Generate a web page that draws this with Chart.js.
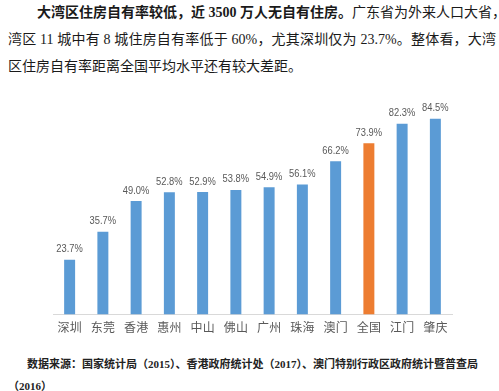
<!DOCTYPE html>
<html>
<head>
<meta charset="utf-8">
<script src="https://cdn.jsdelivr.net/npm/chart.js@4/dist/chart.umd.min.js"></script>
<style>
  html, body { margin: 0; padding: 0; background: #fff; }
  body { width: 499px; height: 391px; position: relative; overflow: hidden;
         font-family: "Liberation Serif", "Noto Sans CJK SC", serif; color: #1a1a1a; }
  .line { position: absolute; font-size: 14px; line-height: 20px; white-space: nowrap;
          text-align: justify; text-align-last: justify; }
  .src { position: absolute; font-size: 11px; line-height: 16px; white-space: nowrap; font-weight: bold; color: #222; }
  #wrap { position: absolute; left: 0; top: 95px; width: 499px; height: 246px; }
</style>
</head>
<body>
<div class="line" style="left:37px; top:3px; width:455px;"><b>大湾区住房自有率较低，近 3500 万人无自有住房。</b>广东省为外来人口大省，</div>
<div class="line" style="left:8px; top:30px; width:488px;">湾区 11 城中有 8 城住房自有率低于 60%，尤其深圳仅为 23.7%。整体看，大湾</div>
<div class="line" style="left:8px; top:57px; text-align-last:auto;">区住房自有率距离全国平均水平还有较大差距。</div>

<div id="wrap"><canvas id="grafico"></canvas></div>

<div class="src" style="left:27px; top:356px; width:436px; text-align:justify; text-align-last:justify;">数据来源：国家统计局（2015）、香港政府统计处（2017）、澳门特别行政区政府统计暨普查局</div>
<div class="src" style="left:8px; top:378px;">（2016）</div>

<script>
const cidades = ["深圳", "东莞", "香港", "惠州", "中山", "佛山", "广州", "珠海", "澳门", "全国", "江门", "肇庆"];
const taxas = [23.7, 35.7, 49.0, 52.8, 52.9, 53.8, 54.9, 56.1, 66.2, 73.9, 82.3, 84.5];
const destaque = "全国";

const cores = cidades.map(c => c === destaque ? '#ed7d31' : '#5b9bd5');

// rótulos de valor em cima de cada barra (fonte um pouco estreita como no original)
const rotulos = {
    id: 'rotulos',
    afterDatasetsDraw(chart) {
        const ctx = chart.ctx;
        const meta = chart.getDatasetMeta(0);
        ctx.save();
        ctx.font = '11px "Liberation Sans", Arial, sans-serif';
        ctx.fillStyle = '#595959';
        ctx.textAlign = 'center';
        ctx.textBaseline = 'bottom';
        meta.data.forEach((bar, i) => {
            ctx.save();
            ctx.translate(bar.x, bar.y - 5);
            ctx.scale(0.85, 1);
            ctx.fillText(taxas[i].toFixed(1) + '%', 0, 0);
            ctx.restore();
        });
        ctx.restore();
    }
};

new Chart(document.getElementById('grafico'), {
    type: 'bar',
    data: {
        labels: cidades,
        datasets: [{
            data: taxas,
            backgroundColor: cores,
            borderWidth: 0,
            barPercentage: 0.66,
            categoryPercentage: 0.5
        }]
    },
    options: {
        responsive: true,
        maintainAspectRatio: false,
        animation: false,
        layout: { padding: { left: 53, right: 47, top: 11, bottom: 0 } },
        plugins: {
            legend: { display: false },
            tooltip: { enabled: false }
        },
        scales: {
            x: {
                grid: { display: false, drawTicks: false },
                border: { display: true, color: '#d9d9d9', width: 1 },
                ticks: {
                    color: '#595959',
                    padding: 6,
                    font: { size: 12, family: '"Noto Sans CJK SC", sans-serif' }
                }
            },
            y: {
                display: false,
                min: 0,
                max: 90
            }
        }
    },
    plugins: [rotulos]
});
</script>
</body>
</html>
